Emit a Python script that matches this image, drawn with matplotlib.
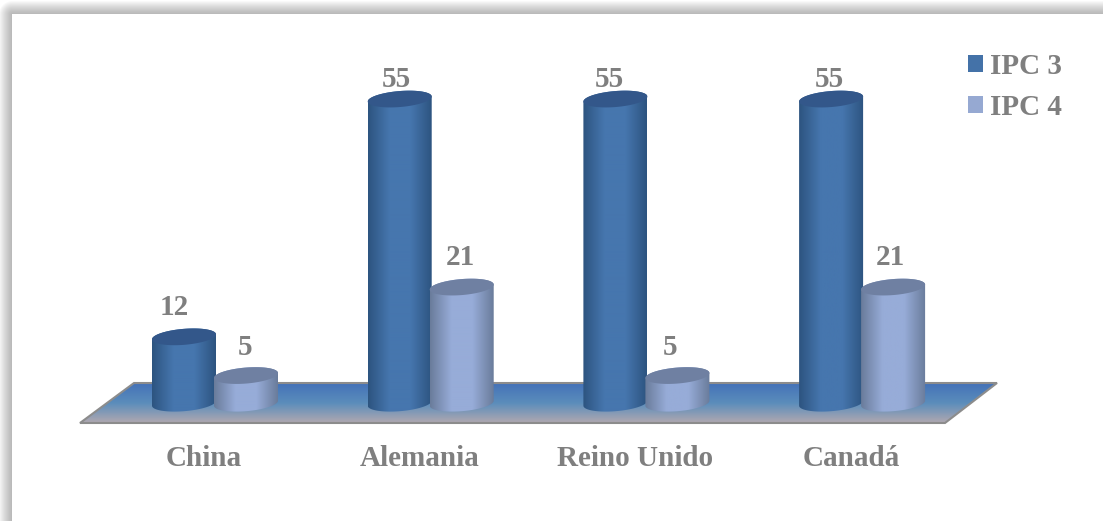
import numpy as np
import matplotlib
matplotlib.use("Agg")
import matplotlib.pyplot as plt
from matplotlib.patches import Patch, Polygon, PathPatch
from matplotlib.path import Path
from matplotlib.colors import LinearSegmentedColormap

categories = ["China", "Alemania", "Reino Unido", "Canadá"]
series_names = ["IPC 3", "IPC 4"]
ipc3 = [12, 55, 55, 55]
ipc4 = [5, 21, 5, 21]

W, H = 1103, 521
GRAY = "#7f7f7f"
FONT = "Liberation Serif"
FS = 21

# pixel position of the scale: category 0 at x0, value 0 at y0
x0, xstep = 215.0, 215.7
y0, ystep = 403.2, 5.53
bar_w = 64 / xstep
offsets = [-31 / xstep, 31 / xstep]
ell_h = 8 / ystep
tilt = 2.5 / ystep
base = 0

# label nudges in pixels, one per series and category
label_dx = [[-10, -3, -6, -2], [-1, -1, -7, -3]]
label_dy = [[29, 20, 20, 20], [28, 30, 28, 30]]

fig = plt.figure(figsize=(W / 100, H / 100), dpi=100)

# background: shadow frame and floor, in pixels
bg = fig.add_axes([0, 0, 1, 1])
bg.set_xlim(0, W)
bg.set_ylim(H, 0)
bg.axis("off")

yy, xx = np.mgrid[0:H, 0:W]
dx = np.clip(12 - xx, 0, None)
dy = np.clip(14 - yy, 0, None)
dist = np.hypot(dx, dy)
shade = np.where(dist > 0, 0.72 + 0.28 * np.clip(dist / 14, 0, 1) ** 1.3, 1.0)
bg.imshow(shade, cmap="gray", vmin=0, vmax=1, extent=(0, W, H, 0), aspect="auto", zorder=0)

floor_pts = [(80, 423), (134, 383), (997, 383), (945, 423)]
floor_cm = LinearSegmentedColormap.from_list("floor", ["#4472b8", "#5b8dbb", "#b0a8b0"])
floor_img = bg.imshow(np.linspace(0, 1, 64)[:, None], cmap=floor_cm, extent=(80, 997, 423, 383),
                      aspect="auto", zorder=1)
floor = Polygon(floor_pts, closed=True, fc="none", ec="#8c8c8c", lw=1.5, zorder=2)
bg.add_patch(floor)
floor_img.set_clip_path(floor)
bg.set_xlim(0, W)
bg.set_ylim(H, 0)

# data axes on top
ax = fig.add_axes([0, 0, 1, 1])
ax.patch.set_alpha(0)
ax.set_xlim(-x0 / xstep, (W - x0) / xstep)
ax.set_ylim((y0 - H) / ystep, y0 / ystep)
ax.axis("off")


def ellipse_pts(cx, cy, t):
    return np.column_stack([cx + bar_w / 2 * np.cos(t),
                            cy + ell_h * np.sin(t) + tilt * np.cos(t)])


def cylinder(cx, value, edge, mid, top, z):
    # body: lower half of base ellipse + upper side
    t_low = np.linspace(np.pi, 2 * np.pi, 60)
    low = ellipse_pts(cx, base, t_low)
    t_up = np.linspace(0, np.pi, 60)
    up = ellipse_pts(cx, value, t_up)
    body = Path(np.vstack([low, up, low[:1]]), closed=False)
    patch = PathPatch(body, fc="none", ec="none", zorder=z)
    ax.add_patch(patch)
    cm = LinearSegmentedColormap.from_list("c", [edge, mid, mid, edge])
    im = ax.imshow(np.linspace(0, 1, 128)[None, :], cmap=cm, aspect="auto", zorder=z,
                   extent=(cx - bar_w / 2, cx + bar_w / 2, base - 4, value + 4))
    im.set_clip_path(patch)
    t = np.linspace(0, 2 * np.pi, 120)
    ax.add_patch(Polygon(ellipse_pts(cx, value, t), closed=True, fc=top, ec="none", zorder=z + 0.1))


styles = [("#2d5480", "#4676ae", "#33578a"), ("#6a7c9b", "#97acd8", "#6f80a2")]
for s, values in enumerate([ipc3, ipc4]):
    for i, v in enumerate(values):
        cx = i + offsets[s]
        cylinder(cx, v, *styles[s], z=3 + s + i * 2)
        ax.annotate(str(v), (cx, v), xytext=(label_dx[s][i] * 0.72, label_dy[s][i] * 0.72),
                    textcoords="offset points", ha="center", va="center", color=GRAY,
                    family=FONT, weight="bold", fontsize=FS, zorder=20)

for i, name in enumerate(categories):
    ax.text(i - 11 / xstep, (y0 - 459) / ystep, name, ha="center", va="center", color=GRAY,
            family=FONT, weight="bold", fontsize=FS)

ax.set_xlim(-x0 / xstep, (W - x0) / xstep)
ax.set_ylim((y0 - H) / ystep, y0 / ystep)

handles = [Patch(fc="#4472a8", ec="none"), Patch(fc="#96a9d2", ec="none")]
ax.legend(handles, series_names, loc="upper right", bbox_to_anchor=(1062 / W, 1 - 53 / H),
          frameon=False, labelcolor=GRAY, borderpad=0, borderaxespad=0,
          prop={"family": FONT, "weight": "bold", "size": FS},
          handlelength=0.514, handleheight=0.514, handletextpad=0.25, labelspacing=0.48)

fig.savefig("out.png", dpi=100)
